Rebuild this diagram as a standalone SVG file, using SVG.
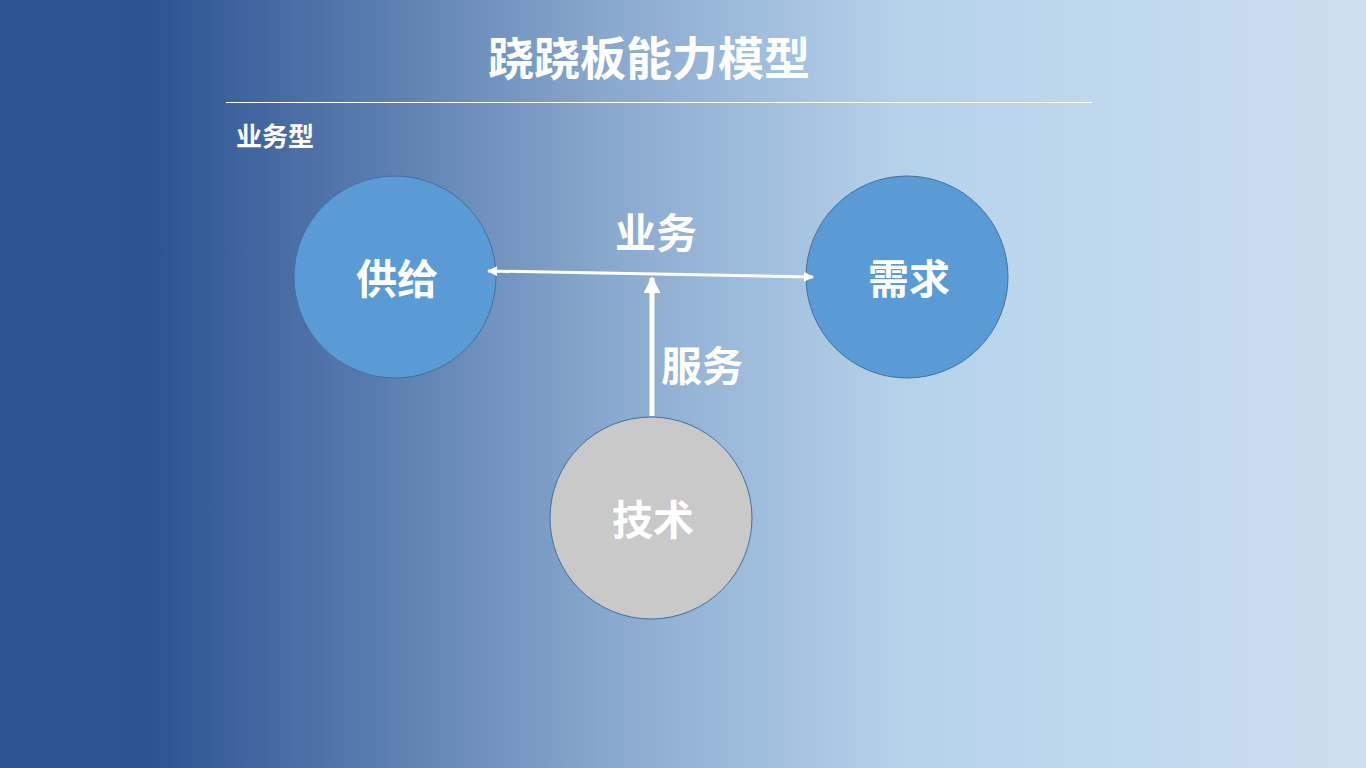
<svg xmlns="http://www.w3.org/2000/svg" width="1366" height="768" viewBox="0 0 1366 768">
<defs>
<linearGradient id="bg" x1="0" y1="0" x2="1366" y2="0" gradientUnits="userSpaceOnUse">
<stop offset="0" stop-color="#2d5493"/>
<stop offset="0.11" stop-color="#2c5392"/>
<stop offset="0.44" stop-color="#88a7cd"/>
<stop offset="0.66" stop-color="#b5d2eb"/>
<stop offset="1" stop-color="#cde0f0"/>
</linearGradient>
<marker id="ah" viewBox="0 0 10 10" refX="9" refY="5" markerWidth="11" markerHeight="10" orient="auto-start-reverse" markerUnits="userSpaceOnUse">
<path d="M0,0 L10,5 L0,10 Z" fill="#ffffff"/>
</marker>
<marker id="ah2" viewBox="0 0 10 10" refX="9" refY="5" markerWidth="17" markerHeight="17" orient="auto" markerUnits="userSpaceOnUse">
<path d="M0,0 L10,5 L0,10 Z" fill="#ffffff"/>
</marker>
</defs>
<style>
.t{font-family:"Noto Sans CJK SC","Noto Sans",sans-serif;font-weight:bold;fill:#ffffff;text-anchor:middle;dominant-baseline:central}
.c{stroke:#41719c;stroke-width:1}
</style>
<rect x="0" y="0" width="1366" height="768" fill="url(#bg)"/>
<text class="t" x="649" y="55" font-size="46">跷跷板能力模型</text>
<line x1="226" y1="102.5" x2="1092" y2="102.5" stroke="#ffffff" stroke-width="1"/>
<text class="t" x="236" y="134" font-size="26" style="text-anchor:start">业务型</text>
<g id="supply">
<circle class="c" cx="395" cy="277" r="101" fill="#5b9bd5"/>
<text class="t" x="397" y="276" font-size="41">供给</text>
</g>
<g id="demand">
<circle class="c" cx="907" cy="277" r="101" fill="#5b9bd5"/>
<text class="t" x="909" y="276" font-size="41">需求</text>
</g>
<g id="tech">
<circle class="c" cx="651" cy="518" r="101" fill="#c9c9c9"/>
<text class="t" x="653" y="517" font-size="41">技术</text>
</g>
<g id="connectors">
<line x1="488" y1="271" x2="813" y2="277" stroke="#ffffff" stroke-width="3" marker-start="url(#ah)" marker-end="url(#ah)"/>
<line x1="652" y1="416" x2="652" y2="278" stroke="#ffffff" stroke-width="5" marker-end="url(#ah2)"/>
<text class="t" x="656" y="230" font-size="41">业务</text>
<text class="t" x="702" y="363" font-size="41">服务</text>
</g>
</svg>
